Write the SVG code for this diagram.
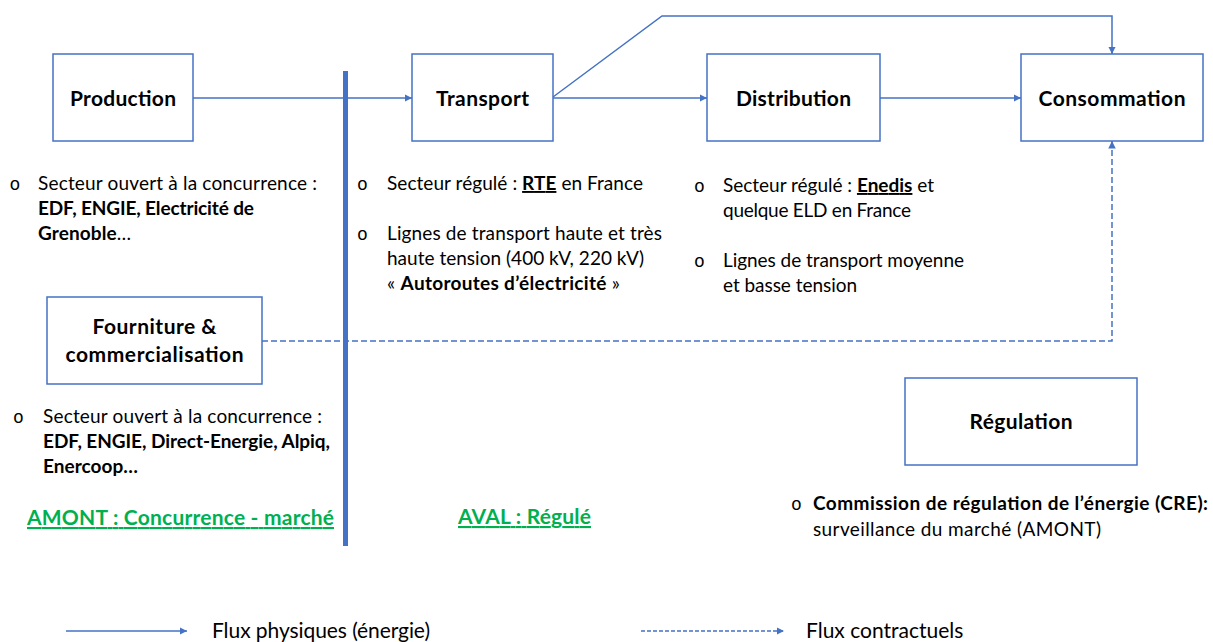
<svg xmlns="http://www.w3.org/2000/svg" width="1213" height="642" viewBox="0 0 1213 642">
<defs>
<marker id="arr" viewBox="0 0 10 10" refX="10" refY="5" markerWidth="5" markerHeight="5" orient="auto" markerUnits="strokeWidth">
<path d="M0,0 L10,5 L0,10 z" fill="#4472C4"/>
</marker>
</defs>
<style>
.box{fill:#fff;stroke:#4472C4;stroke-width:1.5}
.t{font-family:Lato,"Open Sans","Liberation Sans",sans-serif;font-weight:bold;font-size:21px;fill:#000;text-anchor:middle}
.b{font-family:Lato,"Open Sans","Liberation Sans",sans-serif;font-size:19px;fill:#000}
.bu{font-family:"Liberation Mono",monospace;font-size:18px;fill:#000}
.g{font-family:Lato,"Open Sans","Liberation Sans",sans-serif;font-weight:bold;font-size:21px;fill:#00B050;text-decoration:underline}
.lg{font-family:Lato,"Open Sans","Liberation Sans",sans-serif;font-size:21px;fill:#000}
.c{fill:none;stroke:#4472C4;stroke-width:1.5}
.d{fill:none;stroke:#4472C4;stroke-width:1.5;stroke-dasharray:6,3}
.bold{font-weight:bold}
.ul{font-weight:bold;text-decoration:underline}
</style>
<rect width="1213" height="642" fill="#fff"/>

<g id="connectors">
<line class="c" x1="193" y1="98" x2="412" y2="98" marker-end="url(#arr)"/>
<line class="c" x1="553" y1="98" x2="707" y2="98" marker-end="url(#arr)"/>
<line class="c" x1="880" y1="98" x2="1021" y2="98" marker-end="url(#arr)"/>
<polyline class="c" points="553,97 662,16 1112,16 1112,54" marker-end="url(#arr)"/>
<polyline class="d" points="262,341 1112,341 1112,141" marker-end="url(#arr)"/>
</g>

<rect id="divider" x="343" y="71" width="5" height="475" fill="#4472C4"/>

<g id="production">
<rect class="box" x="53" y="54" width="140" height="87"/>
<text class="t" x="123" y="106" textLength="106">Production</text>
</g>
<g id="transport">
<rect class="box" x="412" y="54" width="141" height="87"/>
<text class="t" x="482.5" y="106" textLength="93">Transport</text>
</g>
<g id="distribution">
<rect class="box" x="707" y="54" width="173" height="87"/>
<text class="t" x="793.5" y="106" textLength="115">Distribution</text>
</g>
<g id="consommation">
<rect class="box" x="1021" y="54" width="182" height="87"/>
<text class="t" x="1112" y="106" textLength="147">Consommation</text>
</g>
<g id="fourniture">
<rect class="box" x="47" y="297" width="215" height="87"/>
<text class="t" x="154.5" y="334" textLength="124">Fourniture &amp;</text>
<text class="t" x="154.5" y="362" textLength="178">commercialisation</text>
</g>
<g id="regulation">
<rect class="box" x="905" y="378" width="232" height="87"/>
<text class="t" x="1021" y="429" textLength="103">Régulation</text>
</g>

<g id="production-text">
<text class="bu" x="9.5" y="190">o</text>
<text class="b" x="38" y="190" textLength="279">Secteur ouvert à la concurrence :</text>
<text class="b bold" x="38" y="215" textLength="216">EDF, ENGIE, Electricité de</text>
<text class="b" x="38" y="240" textLength="93"><tspan class="bold">Grenoble</tspan>…</text>
</g>

<g id="transport-text">
<text class="bu" x="357" y="190">o</text>
<text class="b" x="387" y="190" textLength="256">Secteur régulé : <tspan class="ul">RTE</tspan> en France</text>
<text class="bu" x="357" y="240">o</text>
<text class="b" x="387" y="240" textLength="275">Lignes de transport haute et très</text>
<text class="b" x="387" y="265" textLength="257">haute tension (400 kV, 220 kV)</text>
<text class="b" x="387" y="290" textLength="233">« <tspan class="bold">Autoroutes d’électricité</tspan> »</text>
</g>

<g id="distribution-text">
<text class="bu" x="694" y="192">o</text>
<text class="b" x="723" y="192" textLength="211">Secteur régulé : <tspan class="ul">Enedis</tspan> et</text>
<text class="b" x="723" y="217" textLength="188">quelque ELD en France</text>
<text class="bu" x="694" y="267">o</text>
<text class="b" x="723" y="267" textLength="241">Lignes de transport moyenne</text>
<text class="b" x="723" y="292" textLength="134">et basse tension</text>
</g>

<g id="fourniture-text">
<text class="bu" x="13" y="423">o</text>
<text class="b" x="43" y="423" textLength="279">Secteur ouvert à la concurrence :</text>
<text class="b bold" x="43" y="448" textLength="287">EDF, ENGIE, Direct-Energie, Alpiq,</text>
<text class="b bold" x="43" y="473" textLength="95">Enercoop…</text>
</g>

<g id="regulation-text">
<text class="bu" x="791" y="510">o</text>
<text class="b bold" x="813" y="510" textLength="395">Commission de régulation de l’énergie (CRE):</text>
<text class="b" x="813" y="536" textLength="288">surveillance du marché (AMONT)</text>
</g>

<text class="g" x="27" y="525" textLength="307">AMONT : Concurrence - marché</text>
<text class="g" x="458" y="524" textLength="133">AVAL : Régulé</text>

<g id="legend">
<line class="c" x1="66" y1="631" x2="187" y2="631" marker-end="url(#arr)"/>
<text class="lg" x="212" y="638" textLength="218">Flux physiques (énergie)</text>
<line class="c" x1="641" y1="631" x2="784" y2="631" stroke-dasharray="4,2" marker-end="url(#arr)"/>
<text class="lg" x="806" y="638">Flux contractuels</text>
</g>
</svg>
